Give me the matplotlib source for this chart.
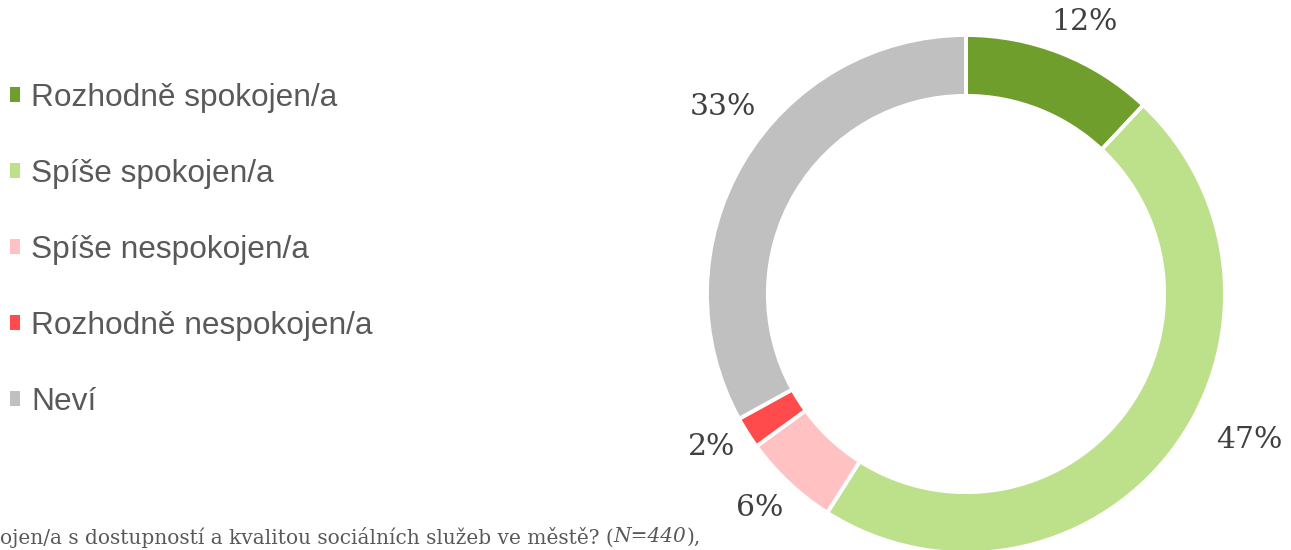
import matplotlib
matplotlib.use("Agg")
import matplotlib.pyplot as plt
from matplotlib.patches import Patch
import numpy as np

categories = ["Rozhodně spokojen/a", "Spíše spokojen/a", "Spíše nespokojen/a",
              "Rozhodně nespokojen/a", "Neví"]
values = [12, 47, 6, 2, 33]
pct_labels = ["12%", "47%", "6%", "2%", "33%"]
colors = ["#6f9e2c", "#bde08a", "#ffc1c1", "#ff4b4b", "#c0c0c0"]
footnote_main = "ojen/a s dostupností a kvalitou sociálních služeb ve městě? ("
footnote_n = "N=440"
footnote_end = "),"

# layout for label placement (radius factor, angle shift in degrees)
label_r = [1.147, 1.232, 1.147, 1.145, 1.185]
label_shift = [-2.0, 10.6, -0.7, -1.3, -6.9]

W, H = 1291, 550
fig = plt.figure(figsize=(W / 100, H / 100), dpi=100)

cx, cy, R = 966, 294, 259
ax = fig.add_axes([(cx - R) / W, (H - cy - R) / H, 2 * R / W, 2 * R / H])

wedges, _ = ax.pie(values, colors=colors, startangle=90, counterclock=False,
                   radius=1.0, wedgeprops=dict(width=0.235, edgecolor="white",
                                               linewidth=2.8))
ax.set_xlim(-1, 1)
ax.set_ylim(-1, 1)
ax.set_aspect("auto")
ax.axis("off")
for w in wedges:
    w.set_clip_on(False)

for w, lab, rf, sh in zip(wedges, pct_labels, label_r, label_shift):
    mid = np.deg2rad((w.theta1 + w.theta2) / 2 + sh)
    ax.text(rf * np.cos(mid), rf * np.sin(mid), lab, ha="center", va="center",
            fontsize=21.5, family="DejaVu Serif", color="#404040", clip_on=False)

handles = [Patch(facecolor=c, edgecolor="none") for c in colors]
fig.legend(handles, categories, loc="upper left",
           bbox_to_anchor=(10 / W, 1 - 83 / H),
           frameon=False, prop=dict(family="Liberation Sans", size=22.8),
           labelcolor="#595959", handlelength=0.33, handleheight=0.33,
           handletextpad=0.33, labelspacing=1.45, borderaxespad=0, borderpad=0)

fs = 14.5
y_f = 1 - 537 / H
t1 = fig.text(0, y_f, footnote_main, ha="left", va="center", fontsize=fs,
              family="DejaVu Serif", color="#595959")
t2 = fig.text(0, y_f, footnote_n, ha="left", va="center", fontsize=fs,
              family="DejaVu Serif", style="italic", color="#595959")
t3 = fig.text(0, y_f, footnote_end, ha="left", va="center", fontsize=fs,
              family="DejaVu Serif", color="#595959")
fig.canvas.draw()
r = fig.canvas.get_renderer()
bb1 = t1.get_window_extent(r)
t2.set_position((bb1.x1 / W, y_f))
fig.canvas.draw()
bb2 = t2.get_window_extent(r)
t3.set_position((bb2.x1 / W, y_f))

fig.savefig("out.png", dpi=100)
